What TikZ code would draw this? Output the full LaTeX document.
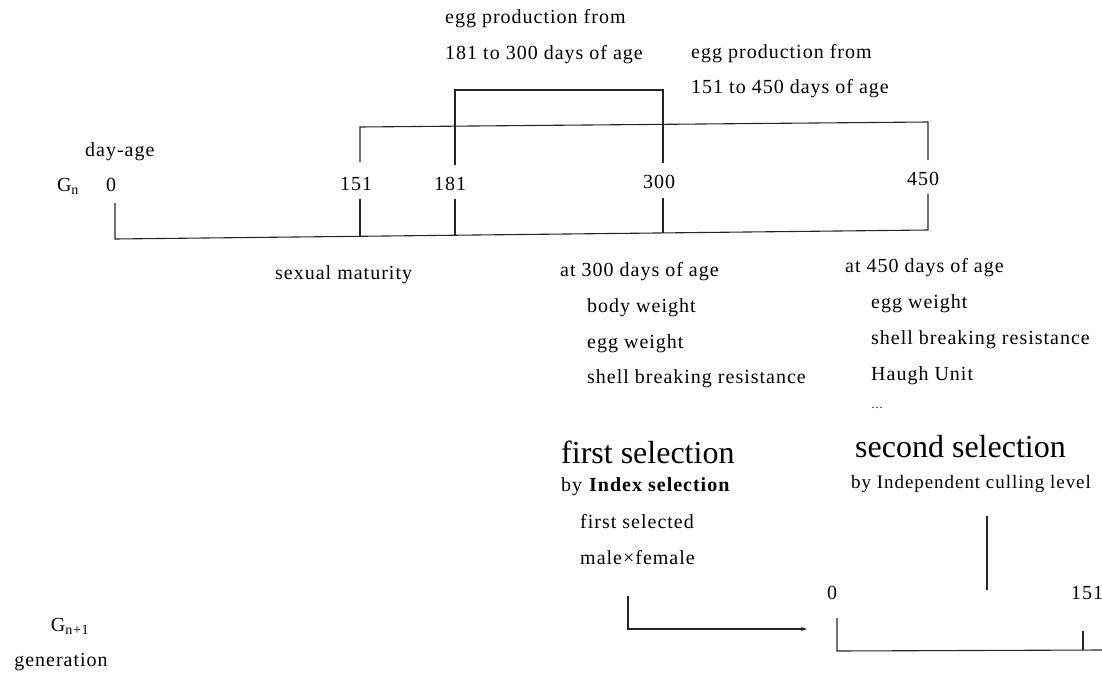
\documentclass[tikz,border=0pt]{standalone}
\usepackage{fontspec}
\setmainfont{Liberation Serif}
\newfontfamily\spacedfont[LetterSpace=5]{Liberation Serif}
\usetikzlibrary{arrows.meta}
\begin{document}
\begin{tikzpicture}[x=1pt,y=-1pt,
  txt/.style={font=\spacedfont\fontsize{20}{23}\selectfont, inner sep=0pt},
  lbl/.style={txt, anchor=west},
  big/.style={font=\fontsize{32}{36}\selectfont, inner sep=0pt, anchor=west},
  ln/.style={line width=1.1pt, black!85}]
\useasboundingbox (0,0) rectangle (1102,682);
% top labels
\node[lbl] (ep1a) at (445,19) {egg production from};
\node[lbl] (ep1b) at (445,55) {181 to 300 days of age};
\node[lbl] (ep2a) at (691,54) {egg production from};
\node[lbl] (ep2b) at (691,89) {151 to 450 days of age};
\node[lbl] (dayage) at (85,152) {day-age};
\node[txt] (gn) at (68,186) {G\textsubscript{n}};
\node[txt] (t0) at (111,185) {0};
\node[txt] (t151) at (356,184) {151};
\node[txt] (t181) at (450,184) {181};
\node[txt] (t300) at (659,182) {300};
\node[txt] (t450) at (923,179) {450};
% brackets
\draw[ln] (360,162) -- (360,127) -- (928,122) -- (928,160);
\draw[ln] (455,165) -- (455,90) -- (663,90) -- (663,163);
% timeline Gn
\draw[ln] (115,203) -- (115,239) -- (928,230) -- (928,194);
\draw[ln] (360,199) -- (360,236.5);
\draw[ln] (455,199) -- (455,235.5);
\draw[ln] (663,198) -- (663,233);
% below timeline
\node[lbl] (sm) at (275,275) {sexual maturity};
\node[lbl] (a300) at (560,272) {at 300 days of age};
\node[lbl] (bw1) at (587,308) {body weight};
\node[lbl] (ew1) at (587,344) {egg weight};
\node[lbl] (sb1) at (587,379) {shell breaking resistance};
\node[lbl] (a450) at (845,268) {at 450 days of age};
\node[lbl] (ew2) at (871,304) {egg weight};
\node[lbl] (sb2) at (871,340) {shell breaking resistance};
\node[lbl] (hu) at (871,376) {Haugh Unit};
\node[lbl, font=\fontsize{12}{14}\selectfont] (dots) at (871,408) {\dots};
% selections
\node[big] (fs) at (561,452) {first selection};
\node[lbl] (bis) at (561,487) {by \textbf{Index selection}};
\node[lbl] (fsel) at (580,522) {first selected};
\node[lbl] (mf) at (580,558) {male×female};
\node[big] (ss) at (855,447) {second selection};
\node[lbl, font=\spacedfont\fontsize{19}{22}\selectfont] (bic) at (851,484) {by Independent culling level};
\draw[ln] (987,516) -- (987,590);
\coordinate (arrs) at (628,596);
\coordinate (arre) at (807,629);
\draw[ln, -{Stealth[length=6pt,width=4pt]}] (arrs) -- (628,629) -- (arre);
% G n+1
\node[txt] (u0) at (832,593) {0};
\node[txt] (u151) at (1087,593) {151};
\draw[ln] (837,618) -- (837,651) -- (1102,650);
\draw[ln] (1083,631) -- (1083,650);
\node[txt] (gn1) at (70,626) {G\textsubscript{n+1}};
\node[txt] (gen) at (61,662) {generation};
\end{tikzpicture}
\end{document}
